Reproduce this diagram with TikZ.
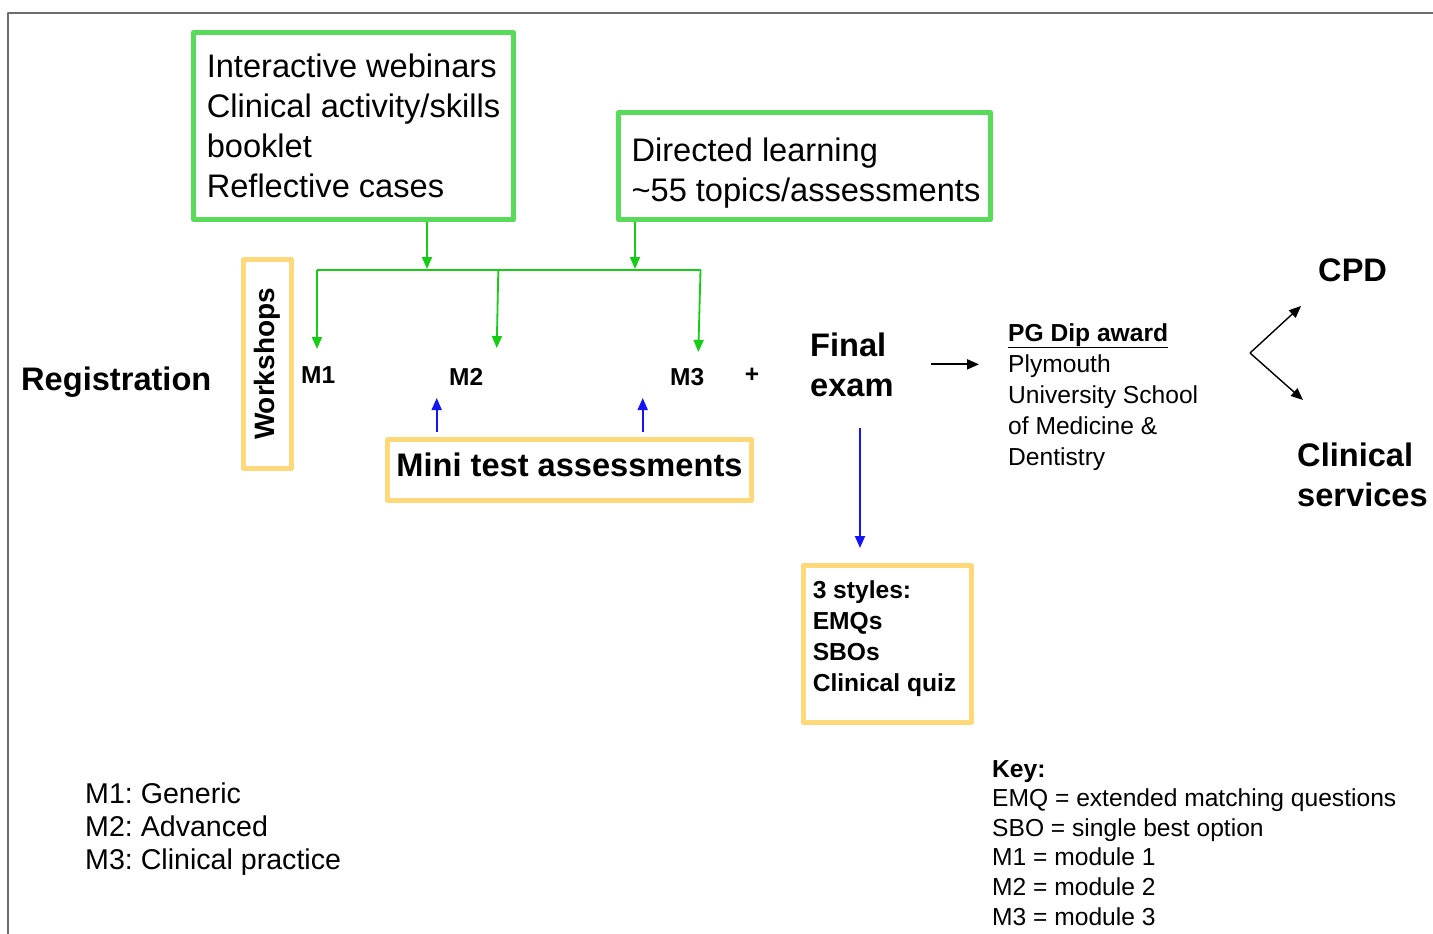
\documentclass[tikz,border=0pt]{standalone}
\usepackage{fontspec}
\setmainfont{Liberation Sans}
\frenchspacing
\usetikzlibrary{arrows.meta}
\definecolor{boxgreen}{RGB}{88,219,88}
\definecolor{boxyellow}{RGB}{255,216,122}
\definecolor{arrgreen}{RGB}{20,205,20}
\definecolor{arrblue}{RGB}{20,20,245}
\definecolor{framegray}{RGB}{110,110,110}
\newcommand{\bigfont}{\fontsize{32.6}{40}\selectfont}
\newcommand{\midfont}{\fontsize{24.6}{31}\selectfont}
\begin{document}
\begin{tikzpicture}[x=1pt,y=-1pt,>={Triangle[length=12pt,width=10pt]},line join=round,
	greenbox/.style={draw=boxgreen,line width=5pt,align=left,inner sep=0pt,font=\bigfont},
	yellowbox/.style={draw=boxyellow,line width=5pt,inner sep=0pt},
	txt/.style={inner sep=0pt,align=left},
	greenarrow/.style={->,arrgreen,line width=1.8pt},
	bluearrow/.style={->,arrblue,line width=1.8pt},
	blackarrow/.style={->,black,line width=1.8pt}]
	\useasboundingbox (0,0) rectangle (1433,934);
	\draw[framegray,line width=1.5pt] (8,934) -- (8,13) -- (1433,13);
	\node[greenbox,minimum width=320,minimum height=187] (webinars) at (353.5,126)
		{Interactive webinars\\Clinical activity/skills\\booklet\\Reflective cases};
	\node[greenbox,minimum width=372,minimum height=107] (directed) at (804.5,166)
		{\rule{0pt}{38pt}\hspace{3pt}Directed learning\\\hspace{3pt}\textasciitilde 55 topics/assessments};
	\node[yellowbox,minimum width=209,minimum height=48,rotate=90,font=\fontsize{28}{34}\selectfont\bfseries] (workshops) at (267.5,364) {Workshops};
	\node[yellowbox,minimum width=364,minimum height=61,text depth=10pt,font=\bigfont\bfseries] (mini) at (569.5,470) {Mini test assessments};
	\node[yellowbox,minimum width=168,minimum height=157,align=left,font=\midfont\bfseries] (styles) at (887.5,644)
		{3 styles:\hspace{6pt}\\EMQs\\SBOs\\Clinical quiz\hspace{6pt}\rule[-16pt]{0pt}{16pt}};
	\node[txt,font=\bigfont\bfseries,anchor=base west] (reg) at (21,390) {Registration};
	\node[txt,font=\fontsize{24.5}{30}\selectfont\bfseries,anchor=base west] (m1) at (301,383) {M1};
	\node[txt,font=\fontsize{24.5}{30}\selectfont\bfseries,anchor=base west] (m2) at (449,385) {M2};
	\node[txt,font=\fontsize{24.5}{30}\selectfont\bfseries,anchor=base west] (m3) at (670,385) {M3};
	\node[txt,font=\fontsize{24.5}{30}\selectfont\bfseries] (plus) at (752,375) {+};
	\node[txt,font=\bigfont\bfseries,anchor=base west] (fexam) at (810,396) {Final\\exam};
	\node[txt,font=\midfont,anchor=base west] (pgdip) at (1008,465)
		{\textbf{\underline{PG Dip award}}\\Plymouth\\University School\\of Medicine \&\\Dentistry};
	\node[txt,font=\bigfont\bfseries,anchor=base west] (cpd) at (1318,281) {CPD};
	\node[txt,font=\bigfont\bfseries,anchor=base west] (clin) at (1297,506) {Clinical\\services};
	\node[txt,font=\fontsize{28.6}{33}\selectfont,anchor=base west] (legend) at (85,869)
		{M1: Generic\\M2: Advanced\\M3: Clinical practice};
	\node[txt,font=\fontsize{24.6}{29.6}\selectfont,anchor=base west] (key) at (992,925)
		{\textbf{Key:}\\EMQ = extended matching questions\\SBO = single best option\\M1 = module 1\\M2 = module 2\\M3 = module 3};
	\coordinate (busl) at (317,270);
	\coordinate (busr) at (700.5,270);
	\coordinate (j1) at (427,270);
	\coordinate (j2) at (635,270);
	\coordinate (b2) at (498.3,270);
	\coordinate (d1) at (317,349);
	\coordinate (d2) at (496.7,348);
	\coordinate (d3) at (698.3,352);
	\coordinate (u1) at (436.7,398);
	\coordinate (u2) at (642.7,398);
	\coordinate (e1) at (860,428);
	\coordinate (fork) at (1250,353);
	\coordinate (c1) at (1301,306);
	\coordinate (c2) at (1303,400);
	\draw[arrgreen,line width=1.8pt] (busl) -- (busr);
	\draw[greenarrow,shorten >=1pt] (webinars.south -| j1) -- (j1);
	\draw[greenarrow,shorten >=1pt] (directed.south -| j2) -- (j2);
	\draw[greenarrow] (busl) -- (d1);
	\draw[greenarrow] (b2) -- (d2);
	\draw[greenarrow] (busr) -- (d3);
	\draw[bluearrow,shorten <=5pt] (mini.north -| u1) -- (u1);
	\draw[bluearrow,shorten <=5pt] (mini.north -| u2) -- (u2);
	\draw[bluearrow,shorten >=15pt] (e1) -- (e1 |- styles.north);
	\draw[blackarrow,shorten <=37pt,shorten >=29pt] (fexam.east) -- (fexam.east -| pgdip.west);
	\draw[blackarrow,line width=1.4pt] (fork) -- (c1);
	\draw[blackarrow,line width=1.4pt] (fork) -- (c2);
\end{tikzpicture}
\end{document}
